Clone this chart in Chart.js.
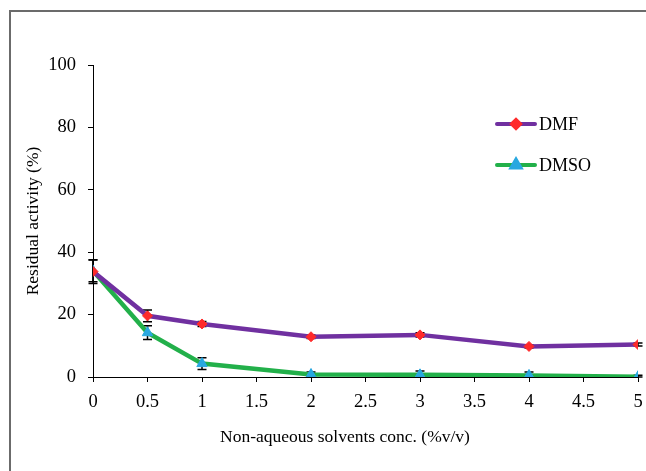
<!DOCTYPE html>
<html>
<head>
<meta charset="utf-8">
<script src="https://cdn.jsdelivr.net/npm/chart.js@4.4.0/dist/chart.umd.min.js"></script>
<style>
    body { margin: 0; background: #fff; }
    #wrap { width: 646px; height: 471px; position: relative; }
</style>
</head>
<body>
<div id="wrap"><canvas id="chart" width="646" height="471"></canvas></div>
<script>
// concentrations (%v/v)
const conc = [0, 0.5, 1, 2, 3, 4, 5];
// residual activity (%)
const dmfValues = [33.8, 19.6, 17.0, 12.9, 13.5, 9.8, 10.4];
const dmsoValues = [34.0, 14.2, 4.3, 0.8, 0.7, 0.5, 0.1];
// error bars (+/-)
const dmfErr = [3.8, 1.9, 0.8, 0.6, 0.7, 0.5, 0.5];
const dmsoErr = [3.5, 2.2, 1.9, 0.8, 1.2, 1.1, 0.5];
const seriesNames = ['DMF', 'DMSO'];
const xTitle = 'Non-aqueous solvents conc. (%v/v)';
const yTitle = 'Residual activity (%)';

const FONT = 'Liberation Serif, Times New Roman, serif';

function toPoints(values) {
    return conc.map((x, i) => ({ x: x, y: values[i] }));
}

// Frame lines round the chart (top and left only, as in the reference)
const framePlugin = {
    id: 'frame',
    beforeDraw(chart) {
        const ctx = chart.ctx;
        ctx.save();
        ctx.strokeStyle = '#6b6b6b';
        ctx.lineWidth = 2;
        ctx.beginPath();
        ctx.moveTo(646, 11);
        ctx.lineTo(10, 11);
        ctx.lineTo(10, 471);
        ctx.stroke();
        ctx.restore();
    }
};

// Error bars drawn through the scales
const errorBarPlugin = {
    id: 'errorBars',
    beforeDatasetsDraw(chart) {
        const ctx = chart.ctx;
        const xs = chart.scales.x;
        const ys = chart.scales.y;
        const errs = [dmfErr, dmsoErr];
        ctx.save();
        ctx.strokeStyle = '#000';
        ctx.lineWidth = 1.5;
        chart.data.datasets.forEach((ds, di) => {
            ds.data.forEach((p, i) => {
                const e = errs[di][i];
                const x = xs.getPixelForValue(p.x);
                const yTop = ys.getPixelForValue(p.y + e);
                const yBot = ys.getPixelForValue(Math.max(0, p.y - e));
                ctx.beginPath();
                ctx.moveTo(x, yTop);
                ctx.lineTo(x, yBot);
                ctx.moveTo(x - 4.5, yTop);
                ctx.lineTo(x + 4.5, yTop);
                ctx.moveTo(x - 4.5, yBot);
                ctx.lineTo(x + 4.5, yBot);
                ctx.stroke();
            });
        });
        ctx.restore();
    }
};

// Legend inside the plot area, plus the x axis title (centred on the whole chart like Excel)
const legendPlugin = {
    id: 'innerLegend',
    afterDraw(chart) {
        const ctx = chart.ctx;
        const rows = [124, 165];
        const sizes = [4, 5];
        ctx.save();
        chart.data.datasets.forEach((ds, i) => {
            const y = rows[i];
            ctx.strokeStyle = ds.borderColor;
            ctx.lineWidth = 4;
            ctx.lineCap = 'round';
            ctx.beginPath();
            ctx.moveTo(497, y);
            ctx.lineTo(535, y);
            ctx.stroke();
            ctx.fillStyle = ds.pointBackgroundColor;
            ctx.strokeStyle = ds.pointBorderColor;
            Chart.helpers.drawPoint(ctx, {
                pointStyle: ds.pointStyle,
                radius: sizes[i],
                rotation: 0,
                borderWidth: 1
            }, 516, y);
            ctx.fillStyle = '#000';
            ctx.font = '18px ' + FONT;
            ctx.textBaseline = 'middle';
            ctx.textAlign = 'left';
            ctx.fillText(ds.label, 539, y + 1);
        });

        ctx.font = '17.5px ' + FONT;
        ctx.textAlign = 'center';
        ctx.textBaseline = 'middle';
        ctx.fillStyle = '#000';
        ctx.fillText(xTitle, 345, 437);
        ctx.restore();
    }
};

const ctx = document.getElementById('chart').getContext('2d');
window.residualChart = new Chart(ctx, {
    type: 'line',
    data: {
        datasets: [
            {
                label: seriesNames[0],
                data: toPoints(dmfValues),
                borderColor: '#7030a0',
                borderWidth: 4.5,
                pointStyle: 'rectRot',
                pointRadius: 5,
                pointBackgroundColor: '#ff2a2a',
                pointBorderColor: '#ff2a2a',
                pointBorderWidth: 1,
                tension: 0
            },
            {
                label: seriesNames[1],
                data: toPoints(dmsoValues),
                borderColor: '#22b04a',
                borderWidth: 4.5,
                pointStyle: 'triangle',
                pointRadius: 6,
                pointBackgroundColor: '#29a8e0',
                pointBorderColor: '#29a8e0',
                pointBorderWidth: 1,
                tension: 0
            }
        ]
    },
    options: {
        responsive: false,
        animation: false,
        layout: {
            padding: { top: 65, right: 8, left: 0, bottom: 0 }
        },
        plugins: {
            legend: { display: false },
            tooltip: { enabled: false }
        },
        scales: {
            x: {
                type: 'linear',
                min: 0,
                max: 5,
                ticks: {
                    stepSize: 0.5,
                    color: '#000',
                    padding: 9.5,
                    font: { family: FONT, size: 18.5 },
                    callback: v => String(v)
                },
                grid: { drawOnChartArea: false, tickLength: 5, color: '#000' },
                border: { color: '#000', width: 1 },
                afterFit(scale) {
                    scale.height = 94;
                    scale.paddingLeft = 0;
                    scale.paddingRight = 0;
                }
            },
            y: {
                min: 0,
                max: 100,
                ticks: {
                    stepSize: 20,
                    color: '#000',
                    padding: 12,
                    font: { family: FONT, size: 18.5 }
                },
                grid: { drawOnChartArea: false, tickLength: 5, color: '#000' },
                border: { color: '#000', width: 1 },
                title: {
                    display: true,
                    text: yTitle,
                    color: '#000',
                    font: { family: FONT, size: 17.5 },
                    padding: { top: 23, bottom: 0 }
                },
                afterFit(scale) {
                    scale.width = 93;
                    scale.paddingTop = 0;
                    scale.paddingBottom = 0;
                }
            }
        }
    },
    plugins: [framePlugin, errorBarPlugin, legendPlugin]
});
</script>
</body>
</html>
